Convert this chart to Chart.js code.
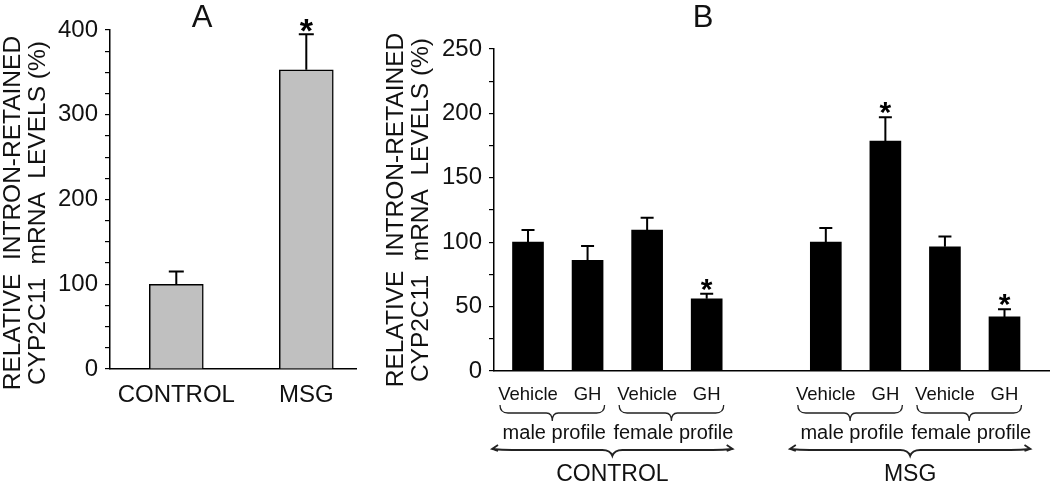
<!DOCTYPE html>
<html>
<head>
<meta charset="utf-8">
<script src="https://cdn.jsdelivr.net/npm/chart.js@4.4.0/dist/chart.umd.min.js"></script>
<style>
html, body { margin: 0; padding: 0; background: #fff; }
#wrap { position: relative; width: 1050px; height: 483px; overflow: hidden; }
canvas { position: absolute; top: 0; }
#chartA { left: 0; }
#chartB { left: 370px; }
</style>
</head>
<body>
<div id="wrap">
  <canvas id="chartA" width="357" height="483"></canvas>
  <canvas id="chartB" width="680" height="483"></canvas>
</div>
<script>
// panel A
const groupsA = ["CONTROL", "MSG"];
const meanA = [100, 353];
const semA = [15, 42];
const starA = [false, true];

// panel B
const treatmentsB = ["Vehicle", "GH", "Vehicle", "GH", "Vehicle", "GH", "Vehicle", "GH"];
const profilesB = ["male profile", "female profile", "male profile", "female profile"];
const groupsB = ["CONTROL", "MSG"];
const meanB = [100, 86, 109.5, 56, 100, 178.5, 96.5, 42];
const semB = [9.5, 11, 9.5, 4, 11, 18.5, 8, 6];
const starB = [false, false, false, true, false, true, false, true];

const yTitle = ["RELATIVE  INTRON-RETAINED", "CYP2C11  mRNA  LEVELS (%)"];

const FONT = "'Liberation Sans', Arial, sans-serif";
Chart.defaults.font.family = FONT;
Chart.defaults.color = "#111";

// bars of B sit on 1..4 and 6..9, one empty slot between the two groups
function slotB(i) {
    return i + 1 + Math.floor(i / 4);
}

const errorBars = {
    id: "errorBars",
    afterDatasetsDraw(chart, args, opts) {
        const ctx = chart.ctx;
        const meta = chart.getDatasetMeta(0);
        const y = chart.scales.y;
        const vals = chart.data.datasets[0].data;
        ctx.save();
        ctx.strokeStyle = "#000";
        ctx.fillStyle = "#000";
        ctx.lineWidth = 2;
        meta.data.forEach(function (bar, i) {
            const top = y.getPixelForValue(vals[i].y + opts.sem[i]);
            ctx.beginPath();
            ctx.moveTo(bar.x, bar.y);
            ctx.lineTo(bar.x, top);
            ctx.moveTo(bar.x - opts.cap / 2, top);
            ctx.lineTo(bar.x + opts.cap / 2, top);
            ctx.stroke();
            if (opts.star[i]) {
                ctx.font = opts.starFont;
                ctx.textAlign = "center";
                ctx.textBaseline = "alphabetic";
                const m = ctx.measureText("*");
                const mid = (m.actualBoundingBoxAscent - m.actualBoundingBoxDescent) / 2;
                ctx.fillText("*", bar.x, top - 9 + mid);
            }
        });
        ctx.restore();
    }
};

const panelLetter = {
    id: "panelLetter",
    afterDraw(chart, args, opts) {
        const ctx = chart.ctx;
        ctx.save();
        ctx.font = "31px " + FONT;
        ctx.fillStyle = "#111";
        ctx.textAlign = "center";
        ctx.textBaseline = "middle";
        ctx.fillText(opts.text, opts.x, opts.y);
        ctx.restore();
    }
};

function smallBrace(ctx, l, r, y) {
    const mid = (l + r) / 2;
    ctx.beginPath();
    ctx.moveTo(l, y - 8);
    ctx.quadraticCurveTo(l, y, l + 8, y);
    ctx.lineTo(mid - 6, y);
    ctx.quadraticCurveTo(mid, y, mid, y + 8);
    ctx.quadraticCurveTo(mid, y, mid + 6, y);
    ctx.lineTo(r - 8, y);
    ctx.quadraticCurveTo(r, y, r, y - 8);
    ctx.stroke();
}

function bigBrace(ctx, l, r, y) {
    const mid = (l + r) / 2;
    ctx.beginPath();
    ctx.moveTo(l + 6, y - 4);
    ctx.lineTo(l, y);
    ctx.lineTo(l + 6, y + 2);
    ctx.moveTo(l, y);
    ctx.quadraticCurveTo(l + 10, y + 1, l + 20, y + 1);
    ctx.lineTo(mid - 10, y + 1);
    ctx.quadraticCurveTo(mid - 2, y + 1, mid, y + 7);
    ctx.quadraticCurveTo(mid + 2, y + 1, mid + 10, y + 1);
    ctx.lineTo(r - 20, y + 1);
    ctx.quadraticCurveTo(r - 10, y + 1, r, y);
    ctx.moveTo(r - 6, y - 4);
    ctx.lineTo(r, y);
    ctx.lineTo(r - 6, y + 2);
    ctx.stroke();
}

const braces = {
    id: "braces",
    afterDraw(chart) {
        const ctx = chart.ctx;
        const meta = chart.getDatasetMeta(0);
        const base = chart.chartArea.bottom;
        ctx.save();
        ctx.strokeStyle = "#222";
        ctx.fillStyle = "#111";
        ctx.textAlign = "center";
        ctx.textBaseline = "middle";
        ctx.lineWidth = 1.3;
        ctx.font = "20px " + FONT;
        profilesB.forEach(function (p, k) {
            const x1 = meta.data[2 * k].x;
            const x2 = meta.data[2 * k + 1].x;
            smallBrace(ctx, x1 - 28, x2 + 17, base + 42);
            ctx.fillText(p, (x1 - 28 + x2 + 17) / 2 + 2, base + 62);
        });
        ctx.lineWidth = 1.8;
        ctx.font = "23px " + FONT;
        groupsB.forEach(function (g, k) {
            const x1 = meta.data[4 * k].x;
            const x2 = meta.data[4 * k + 3].x;
            bigBrace(ctx, x1 - 36, x2 + 26, base + 78);
            ctx.fillText(g, (x1 - 36 + x2 + 26) / 2, base + 104);
        });
        ctx.restore();
    }
};

function yAxis(max, labelEvery, width, titlePad, title) {
    return {
        min: 0,
        max: max,
        afterFit: function (s) { s.width = width; },
        border: { color: "#000", width: 1.5 },
        grid: { drawOnChartArea: false, drawTicks: true, tickLength: 5, color: "#000", lineWidth: 1.2 },
        ticks: {
            stepSize: 25,
            autoSkip: false,
            padding: 7,
            color: "#111",
            font: { size: 24 },
            callback: function (v) { return v % labelEvery === 0 ? v : ""; }
        },
        title: {
            display: true,
            text: title,
            color: "#111",
            font: { size: 24.5, lineHeight: 1.05 },
            padding: { top: titlePad, bottom: 0 }
        }
    };
}

new Chart(document.getElementById("chartA"), {
    type: "bar",
    data: {
        datasets: [{
            data: meanA.map(function (v, i) { return { x: i + 1, y: v }; }),
            backgroundColor: "#c0c0c0",
            borderColor: "#000",
            borderWidth: 1.5,
            barThickness: 54
        }]
    },
    options: {
        responsive: false,
        animation: false,
        layout: { padding: { top: 30, right: 0, bottom: 0, left: 0 } },
        plugins: {
            legend: { display: false },
            tooltip: { enabled: false },
            errorBars: { sem: semA, star: starA, cap: 15, starFont: "bold 34px " + FONT },
            panelLetter: { text: "A", x: 202, y: 18 }
        },
        scales: {
            x: {
                type: "linear",
                min: 0.49,
                max: 2.39,
                offset: false,
                grid: { display: false, drawTicks: false },
                border: { color: "#000", width: 1.5 },
                afterBuildTicks: function (s) { s.ticks = groupsA.map(function (g, i) { return { value: i + 1 }; }); },
                afterFit: function (s) { s.height = 114; },
                ticks: {
                    autoSkip: false,
                    maxRotation: 0,
                    padding: 12,
                    color: "#111",
                    font: { size: 24 },
                    callback: function (v, i) { return groupsA[i]; }
                }
            },
            // trailing spaces push the rotated title a little lower, as in the figure
            y: yAxis(400, 100, 110, 0, yTitle.map(function (t) { return t + "    "; }))
        }
    },
    plugins: [errorBars, panelLetter]
});

new Chart(document.getElementById("chartB"), {
    type: "bar",
    data: {
        datasets: [{
            data: meanB.map(function (v, i) { return { x: slotB(i), y: v }; }),
            backgroundColor: "#000",
            borderWidth: 0,
            barThickness: 31
        }]
    },
    options: {
        responsive: false,
        animation: false,
        layout: { padding: { top: 49, right: 0, bottom: 0, left: 0 } },
        plugins: {
            legend: { display: false },
            tooltip: { enabled: false },
            errorBars: { sem: semB, star: starB, cap: 13, starFont: "bold 30px " + FONT },
            panelLetter: { text: "B", x: 333, y: 18 }
        },
        scales: {
            x: {
                type: "linear",
                min: 0.429,
                max: 9.764,
                offset: false,
                grid: { display: false, drawTicks: false },
                border: { color: "#000", width: 1.5 },
                afterBuildTicks: function (s) { s.ticks = treatmentsB.map(function (t, i) { return { value: slotB(i) }; }); },
                afterFit: function (s) { s.height = 112; },
                ticks: {
                    autoSkip: false,
                    maxRotation: 0,
                    padding: 13,
                    color: "#111",
                    font: { size: 18.5 },
                    callback: function (v, i) { return treatmentsB[i]; }
                }
            },
            y: yAxis(250, 50, 124, 13, yTitle)
        }
    },
    plugins: [errorBars, panelLetter, braces]
});
</script>
</body>
</html>
